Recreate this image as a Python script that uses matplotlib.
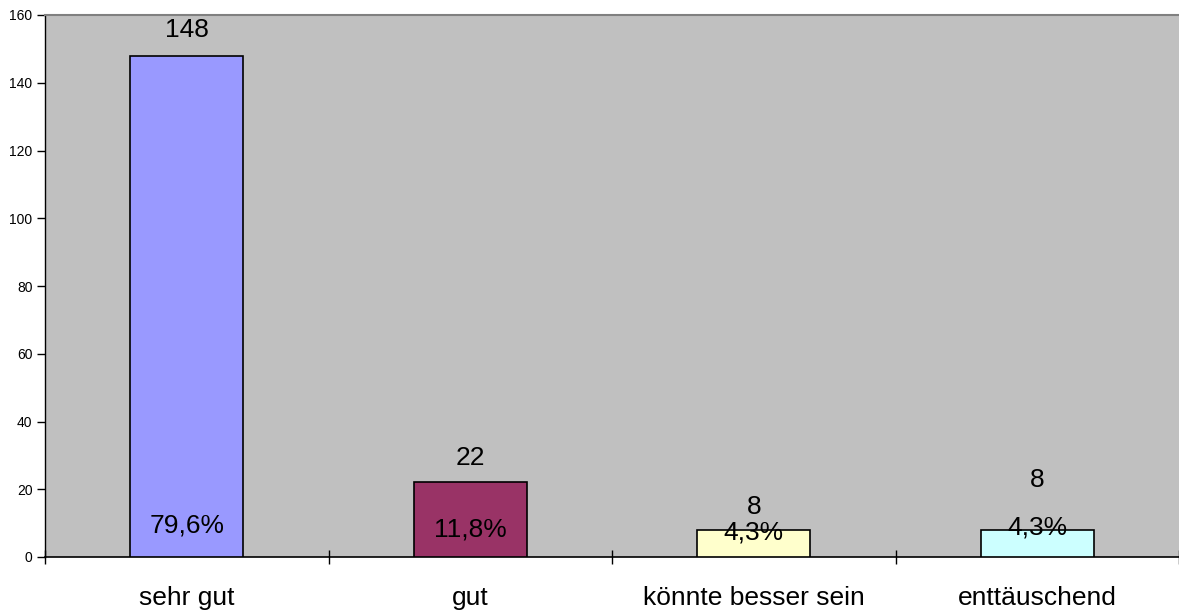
import numpy as np
import matplotlib.pyplot as plt
import matplotlib

matplotlib.rcParams['font.family'] = ['Liberation Sans', 'DejaVu Sans']

categories = ["sehr gut", "gut", "könnte besser sein", "enttäuschend"]
counts = [148, 22, 8, 8]
percents = ["79,6%", "11,8%", "4,3%", "4,3%"]
bar_colors = ['#9999FF', '#993366', '#FFFFCC', '#CCFFFF']
# label heights as they sit in the original (data units)
count_label_y = [155.6, 29.2, 14.8, 22.7]
percent_label_y = [9.4, 8.0, 7.1, 8.6]

fig = plt.figure(figsize=(11.79, 6.16), dpi=100)
ax = fig.add_axes([45/1179, 1-557/616, 1-45/1179, (557-15)/616])
ax.set_facecolor('#C0C0C0')

x = np.arange(len(categories)) + 0.5
ax.bar(x, counts, width=0.4, color=bar_colors, edgecolor='black', linewidth=1.2, zorder=3)

for xi, c, cy, p, py in zip(x, counts, count_label_y, percents, percent_label_y):
	ax.text(xi, cy, str(c), ha='center', va='center', fontsize=19, zorder=4)
	ax.text(xi, py, p, ha='center', va='center', fontsize=19, zorder=4)

ax.set_xlim(0, 4)
ax.set_ylim(0, 160)
ax.set_yticks(np.arange(0, 161, 20))
ax.tick_params(axis='y', labelsize=10, length=6, width=1, direction='out', pad=3)

ax.set_xticks(np.arange(0, 5))
ax.set_xticklabels([])
ax.set_xticks(x, minor=True)
ax.set_xticklabels(categories, minor=True, fontsize=19)
ax.tick_params(axis='x', which='minor', length=0, pad=21)
ax.tick_params(axis='x', which='major', length=10, width=1, direction='inout')

ax.spines['right'].set_visible(False)
ax.spines['top'].set_color('#808080')
ax.spines['top'].set_linewidth(1.5)
ax.spines['left'].set_linewidth(1)
ax.spines['bottom'].set_linewidth(1.2)

plt.savefig("out.png", dpi=100)
